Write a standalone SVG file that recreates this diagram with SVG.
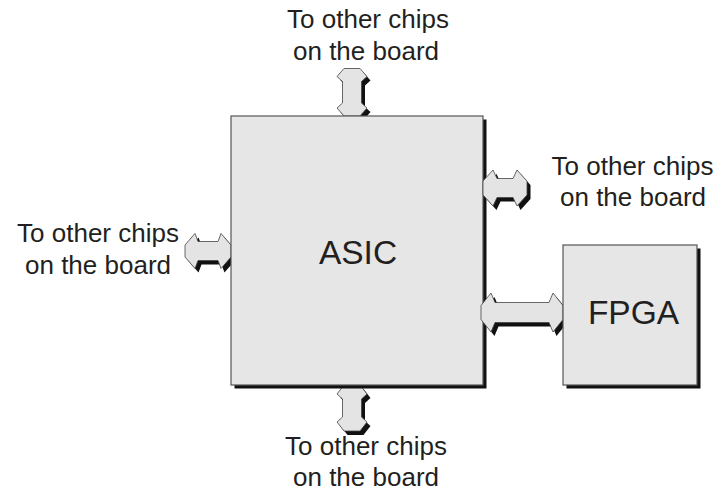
<svg xmlns="http://www.w3.org/2000/svg" xmlns:xlink="http://www.w3.org/1999/xlink" width="722" height="493" viewBox="0 0 722 493">
<style>
.shadow{fill:#111;stroke:none}
.body{fill:#e6e6e6;stroke:#555;stroke-width:1.2}
.arrow{fill:#e4e4e4;stroke:#444;stroke-width:0.8;stroke-linejoin:miter}
.lbl{font-family:"Liberation Sans",Arial,sans-serif;font-size:26px;fill:#231f20;text-anchor:middle}
.big{font-family:"Liberation Sans",Arial,sans-serif;font-size:33.5px;fill:#231f20;text-anchor:middle}
</style>
<defs>
<polygon id="pTop" points="344,68.5 360,68.5 367,76.5 361.5,81.5 361.5,103 367,108 360,116 344,116 337,108 342.5,103 342.5,81.5 337,76.5"/>
<polygon id="pBot" points="344,385 360,385 367,394 361.5,399 361.5,417 367,422 360,431 344,431 337,422 342.5,417 342.5,399 337,394"/>
<polygon id="pLeft" points="185,245 195,233.5 198,241.5 218,241.5 221,233.5 231,245 231,257 221,268.5 218,260.5 198,260.5 195,268.5 185,257"/>
<polygon id="pRight" points="483,181 493,170 497,178.5 513,178.5 517,170 527,181 527,195 517,206 513,197.5 497,197.5 493,206 483,195"/>
<polygon id="pFpga" points="481,305.5 491,293 495,302.5 549,302.5 553,293 563,305.5 563,319.5 553,332 549,322.5 495,322.5 491,332 481,319.5"/>
</defs>
<g id="connectors-under">
<g id="arrow-top"><use xlink:href="#pTop" class="shadow" transform="translate(3.5,4)"/><use xlink:href="#pTop" class="arrow"/></g>
<g id="arrow-bottom"><use xlink:href="#pBot" class="shadow" transform="translate(3.5,4)"/><use xlink:href="#pBot" class="arrow"/></g>
<g id="arrow-left"><use xlink:href="#pLeft" class="shadow" transform="translate(3.5,4)"/><use xlink:href="#pLeft" class="arrow"/></g>
</g>
<g id="asic">
<rect x="234.5" y="119.5" width="252" height="269" class="shadow"/>
<rect x="231" y="116" width="252" height="269" class="body"/>
<text x="358" y="264" class="big">ASIC</text>
</g>
<g id="connectors">
<g id="arrow-right"><use xlink:href="#pRight" class="shadow" transform="translate(3.5,4)"/><use xlink:href="#pRight" class="arrow"/></g>
<g id="arrow-fpga"><use xlink:href="#pFpga" class="shadow" transform="translate(3.5,4)"/><use xlink:href="#pFpga" class="arrow"/></g>
</g>
<g id="fpga">
<rect x="566.5" y="248.5" width="134" height="140" class="shadow"/>
<rect x="563" y="245" width="134" height="140" class="body"/>
<text x="633.5" y="324" class="big">FPGA</text>
</g>
<g id="label-top">
<text x="368" y="28" class="lbl">To other chips</text>
<text x="366" y="59.5" class="lbl">on the board</text>
</g>
<g id="label-right">
<text x="632.5" y="174.5" class="lbl">To other chips</text>
<text x="633" y="206" class="lbl">on the board</text>
</g>
<g id="label-left">
<text x="98" y="242" class="lbl">To other chips</text>
<text x="98" y="273.5" class="lbl">on the board</text>
</g>
<g id="label-bottom">
<text x="366" y="455" class="lbl">To other chips</text>
<text x="366" y="486" class="lbl">on the board</text>
</g>
</svg>
